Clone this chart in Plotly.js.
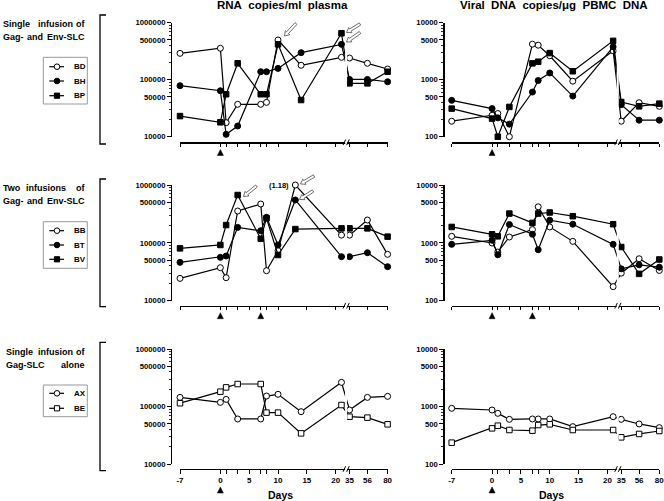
<!DOCTYPE html>
<html><head><meta charset="utf-8">
<script src="https://cdn.plot.ly/plotly-3.0.1.min.js"></script>
<style>html,body{margin:0;padding:0;background:#fff}</style>
</head><body><div id="chart" style="width:664px;height:501px"></div>
<script>
// ---------- data ----------
const daysA = [-7,0,1,3,7,8,10,14,21,35,56,80];   // top panels, bottom panels, middle DNA
const daysB = [-7,0,1,3,7,8,10,13,21,35,56,80];   // middle RNA
// Single infusion of Gag- and Env-SLC
const rnaBD = [290000,356000,17600,37000,37000,40000,497000,179000,247000,240000,194000,154000];
const rnaBH = [78500,64000,11000,15400,138000,138000,158000,298000,417000,101000,101000,92000];
const rnaBP = [23000,17900,55500,194000,55500,55500,417000,44000,652000,86300,86300,138000];
const dnaBD = [187,238,255,100,4200,4030,2630,942,3210,187,395,341];
const dnaBH = [434,311,214,166,607,968,1314,516,3775,365,195,195];
const dnaBP = [311,208,100,333,1936,2070,2930,1406,4800,406,341,380];
// Two infusions of Gag- and Env-SLC
const rnaBB = [24300,37200,25000,355000,469000,33000,73300,1000000,136000,136000,248000,63300];
const rnaBT = [46000,56100,59200,185000,162000,276000,91900,551000,57700,57700,67600,38700];
const rnaBV = [80300,91900,203000,671000,118000,265000,61700,173000,178000,178000,178000,128000];
const dnaBB = [1297,993,693,1262,1694,4200,1884,1061,175,299,531,333];
const dnaBT = [942,1105,622,2070,1406,760,2460,2100,942,356,417,380];
const dnaBV = [1884,1406,1297,3210,2213,3210,3350,2890,2100,847,291,516];
// Single infusion of Gag-SLC alone
const rnaAX = [144000,118000,133000,60700,60700,152000,163000,81300,263000,86900,144000,150000];
const rnaBE = [114000,181000,215000,246000,246000,78200,78200,34100,106000,66500,64000,49000];
const dnaAX = [929,869,760,598,607,607,607,446,665,598,497,429];
const dnaBE = [235,417,464,390,380,476,490,390,390,291,333,375];

const xTickDays = [-7,0,1,3,5,7,8,10,15,20,35,56,80];
const xTickText = ['-7','0','','','5','','','10','15','20','35','56','80'];
const rnaTicks = [10000,50000,100000,500000,1000000];
const rnaTickText = ['10000','50000','100000','500000','1000000'];
const dnaTicks = [100,500,1000,5000,10000];
const dnaTickText = ['100','500','1000','5000','10000'];

// ---------- broken x scale ----------
const brk = {35:22.4, 56:25.5, 80:29};
const pos = d => (d <= 21 ? d : brk[d]);
const XR = [-7, 29];

const W = 664, H = 501;
const PX = p => p / W, PY = p => 1 - p / H;
const FONT = 'Liberation Sans, Arial, sans-serif';

const colL = [180, 387.6], colR = [451.7, 659.3];
const rows = [ {top:22.7, bot:136.7, axis:142.3, tri:152.5},
               {top:185, bot:300.7, axis:305.7, tri:315.7},
               {top:349, bot:464, axis:469, tri:490} ];
const yPosL = 171, yPosR = 443.3;

function dayPx(col, d){ return col[0] + (pos(d) - XR[0]) / (XR[1]-XR[0]) * (col[1]-col[0]); }

function minorVals(lo, hi){ const v=[]; for(let e=lo;e<hi;e++){ for(let m=2;m<=9;m++) v.push(m*Math.pow(10,e)); } return v; }

function xax(col, row, labels){
  return {domain:[PX(col[0]),PX(col[1])], anchor:'free', position:PY(row.axis), range:XR,
    showgrid:false, zeroline:false, showline:true, linecolor:'#000', linewidth:1.2,
    ticks:'outside', ticklen:3.5, tickwidth:1, tickcolor:'#000',
    tickmode:'array', tickvals:xTickDays.map(pos), ticktext:xTickText, ticklabeloverflow:'allow',
    showticklabels:labels, tickfont:{family:FONT, size:8, color:'#000', weight:'bold'}, fixedrange:true};
}
function yax(row, xp, kind){
  const rna = kind==='rna';
  return {domain:[PY(row.bot),PY(row.top)], anchor:'free', position:PX(xp), type:'log',
    range: rna ? [4,6] : [2,4],
    showgrid:false, zeroline:false, showline:true, linecolor:'#000', linewidth:1.2,
    ticks:'outside', ticklen:4, tickwidth:1, tickcolor:'#000',
    tickmode:'array', tickvals: rna?rnaTicks:dnaTicks, ticktext: rna?rnaTickText:dnaTickText,
    minor:{tickmode:'array', tickvals: rna?minorVals(4,6):minorVals(2,4), ticks:'outside', ticklen:2, tickwidth:0.8, tickcolor:'#000'},
    tickfont:{family:FONT, size:7.7, color:'#000', weight:'bold'}, fixedrange:true};
}

const MK = {
  oc:{symbol:'circle', size:6, color:'#fff', line:{color:'#000', width:1}},
  fc:{symbol:'circle', size:6, color:'#000', line:{color:'#000', width:1}},
  fs:{symbol:'square', size:5.5, color:'#000', line:{color:'#000', width:1}},
  os:{symbol:'square', size:5.5, color:'#fff', line:{color:'#000', width:1}}
};
function tr(name, days, vals, mk, xa, ya){
  return {type:'scatter', mode:'lines+markers', name:name, x:days.map(pos), y:vals,
    xaxis:xa, yaxis:ya, line:{color:'#000', width:1.2}, marker:MK[mk], cliponaxis:false, showlegend:false};
}

const data = [
  tr('BD', daysA, rnaBD, 'oc', 'x', 'y'),
  tr('BH', daysA, rnaBH, 'fc', 'x', 'y'),
  tr('BP', daysA, rnaBP, 'fs', 'x', 'y'),
  tr('BD', daysA, dnaBD, 'oc', 'x4', 'y4'),
  tr('BH', daysA, dnaBH, 'fc', 'x4', 'y4'),
  tr('BP', daysA, dnaBP, 'fs', 'x4', 'y4'),
  tr('BB', daysB, rnaBB, 'oc', 'x2', 'y2'),
  tr('BT', daysB, rnaBT, 'fc', 'x2', 'y2'),
  tr('BV', daysB, rnaBV, 'fs', 'x2', 'y2'),
  tr('BB', daysA, dnaBB, 'oc', 'x5', 'y5'),
  tr('BT', daysA, dnaBT, 'fc', 'x5', 'y5'),
  tr('BV', daysA, dnaBV, 'fs', 'x5', 'y5'),
  tr('AX', daysA, rnaAX, 'oc', 'x3', 'y3'),
  tr('BE', daysA, rnaBE, 'os', 'x3', 'y3'),
  tr('AX', daysA, dnaAX, 'oc', 'x6', 'y6'),
  tr('BE', daysA, dnaBE, 'os', 'x6', 'y6')
];

const shapes = [], ann = [];
function line(x1,y1,x2,y2,w,c){ shapes.push({type:'line', xref:'paper', yref:'paper', x0:PX(x1), y0:PY(y1), x1:PX(x2), y1:PY(y2), line:{color:c||'#000', width:w||1}}); }
function poly(pts, fill, lc, lw){
  const d = pts.map((p,i)=>(i?'L':'M')+PX(p[0]).toFixed(5)+','+PY(p[1]).toFixed(5)).join(' ')+' Z';
  shapes.push({type:'path', xref:'paper', yref:'paper', path:d, fillcolor:fill, line:{color:lc, width:lw}});
}
function rect(x0,y0,x1,y1,fill,lc,lw){ shapes.push({type:'rect', xref:'paper', yref:'paper', x0:PX(x0), y0:PY(y1), x1:PX(x1), y1:PY(y0), fillcolor:fill, line:{color:lc, width:lw}}); }
function circ(cx,cy,r,fill){ shapes.push({type:'circle', xref:'paper', yref:'paper', x0:PX(cx-r), x1:PX(cx+r), y0:PY(cy+r), y1:PY(cy-r), fillcolor:fill, line:{color:'#000', width:1}}); }
function text(t, x, y, xa, size, extra){ ann.push(Object.assign({text:t, xref:'paper', yref:'paper', x:PX(x), y:PY(y), xanchor:xa, yanchor:'middle', showarrow:false, font:{family:FONT, size:size, color:'#000'}}, extra||{})); }

// break masks and slashes
rows.forEach(r=>{
  [colL, colR].forEach(col=>{
    const bx = dayPx(col, 21) + 3.6;
    rect(bx, r.top-4, bx+2.0, r.axis+1.5, '#fff', 'rgba(0,0,0,0)', 0);
    line(bx-2.0, r.axis+2.8, bx+0.6, r.axis-2.8, 1);
    line(bx+1.6, r.axis+2.8, bx+4.2, r.axis-2.8, 1);
  });
});

// triangles (infusion markers)
function tri(cx, cy){ poly([[cx-3,cy+3],[cx+3,cy+3],[cx,cy-3]], '#000', '#000', 0.5); }
[colL, colR].forEach(col=>{
  tri(dayPx(col,0), rows[0].tri);
  tri(dayPx(col,0), rows[1].tri); tri(dayPx(col,7), rows[1].tri);
  tri(dayPx(col,0), rows[2].tri);
});

// hollow arrows
function arrow(tx,ty,hx,hy){
  const dx=hx-tx, dy=hy-ty, L=Math.hypot(dx,dy), ux=dx/L, uy=dy/L, nx=-uy, ny=ux;
  const sw=1.3, hw=3.0, hl=4.5;
  const neck=[hx-ux*hl, hy-uy*hl];
  poly([[tx+nx*sw,ty+ny*sw],[neck[0]+nx*sw,neck[1]+ny*sw],[neck[0]+nx*hw,neck[1]+ny*hw],[hx,hy],
        [neck[0]-nx*hw,neck[1]-ny*hw],[neck[0]-nx*sw,neck[1]-ny*sw],[tx-nx*sw,ty-ny*sw]], '#fff', '#333', 0.7);
}
arrow(296,23.5,284.5,36);
arrow(360,24,346.5,32.5);
arrow(360,32.5,346.5,42);
arrow(256.5,186,243.5,196.5);
arrow(314,176,300.5,184);
arrow(313,191,299.5,199.5);

// brackets
function bracket(y0,y1){ shapes.push({type:'path', xref:'paper', yref:'paper', path:`M${PX(106)},${PY(y0)} L${PX(100)},${PY(y0)} L${PX(100)},${PY(y1)} L${PX(106)},${PY(y1)}`, line:{color:'#000', width:1.3}}); }
bracket(15,144); bracket(179,306.7); bracket(342.3,470.7);

// manual legends
function legend(box, entries){
  rect(box[0], box[1], box[2], box[3], '#fff', '#999', 1);
  entries.forEach(e=>{
    line(49.3, e.y, 64, e.y, 1.2);
    if(e.m==='oc') circ(57, e.y, 2.8, '#fff');
    else if(e.m==='fc') circ(57, e.y, 2.8, '#000');
    else if(e.m==='fs') rect(54.4, e.y-2.6, 59.6, e.y+2.6, '#000', '#000', 1);
    else rect(54.4, e.y-2.6, 59.6, e.y+2.6, '#fff', '#000', 1);
    text('<b>'+e.t+'</b>', 71.5, e.y, 'left', 8);
  });
}
legend([43.3,57.3,87.3,104], [{t:'BD',m:'oc',y:66.7},{t:'BH',m:'fc',y:81},{t:'BP',m:'fs',y:95.7}]);
legend([43.3,221.7,87.3,268.3], [{t:'BB',m:'oc',y:230.7},{t:'BT',m:'fc',y:245},{t:'BV',m:'fs',y:259.3}]);
legend([43.3,385,87.3,416.7], [{t:'AX',m:'oc',y:393.3},{t:'BE',m:'os',y:408.3}]);

// group labels
const B = s => '<b>'+s+'</b>';
text(B('Single'),1,24.3,'left',9); text(B('infusion'),55.3,24.3,'center',9); text(B('of'),87.3,24.3,'right',9);
text(B('Gag-'),1,36.7,'left',9); text(B('and'),34.7,36.7,'center',9); text(B('Env-SLC'),87.3,36.7,'right',9);
text(B('Two'),1,188.3,'left',9); text(B('infusions'),45.5,188.3,'center',9); text(B('of'),87.3,188.3,'right',9);
text(B('Gag-'),1,200.7,'left',9); text(B('and'),34.7,200.7,'center',9); text(B('Env-SLC'),87.3,200.7,'right',9);
text(B('Single'),4,352.3,'left',9); text(B('infusion'),55,352.3,'center',9); text(B('of'),87.3,352.3,'right',9);
text(B('Gag-SLC'),4,365,'left',9); text(B('alone'),87.3,365,'right',9);

// titles
text(B('RNA\u00a0 copies/ml\u00a0 plasma'), 282.5, 5.5, 'center', 11.5);
text(B('Viral\u00a0 DNA\u00a0 copies/\u03bcg\u00a0 PBMC\u00a0 DNA'), 553.5, 5.5, 'center', 11.5);
text(B('Days'), 280, 495, 'center', 10.5);
text(B('Days'), 551, 495, 'center', 10.5);
text(B('(1.18)'), 290.5, 185, 'right', 7.5);

const layout = {
  width:W, height:H, margin:{l:0,r:0,t:0,b:0}, paper_bgcolor:'#fff', plot_bgcolor:'rgba(0,0,0,0)',
  showlegend:false, font:{family:FONT, color:'#000'},
  xaxis: xax(colL, rows[0], false), yaxis: yax(rows[0], yPosL, 'rna'),
  xaxis2: xax(colL, rows[1], false), yaxis2: yax(rows[1], yPosL, 'rna'),
  xaxis3: xax(colL, rows[2], true), yaxis3: yax(rows[2], yPosL, 'rna'),
  xaxis4: xax(colR, rows[0], false), yaxis4: yax(rows[0], yPosR, 'dna'),
  xaxis5: xax(colR, rows[1], false), yaxis5: yax(rows[1], yPosR, 'dna'),
  xaxis6: xax(colR, rows[2], true), yaxis6: yax(rows[2], yPosR, 'dna'),
  shapes: shapes, annotations: ann
};
Plotly.newPlot('chart', data, layout, {displayModeBar:false, staticPlot:true});
</script></body></html>
